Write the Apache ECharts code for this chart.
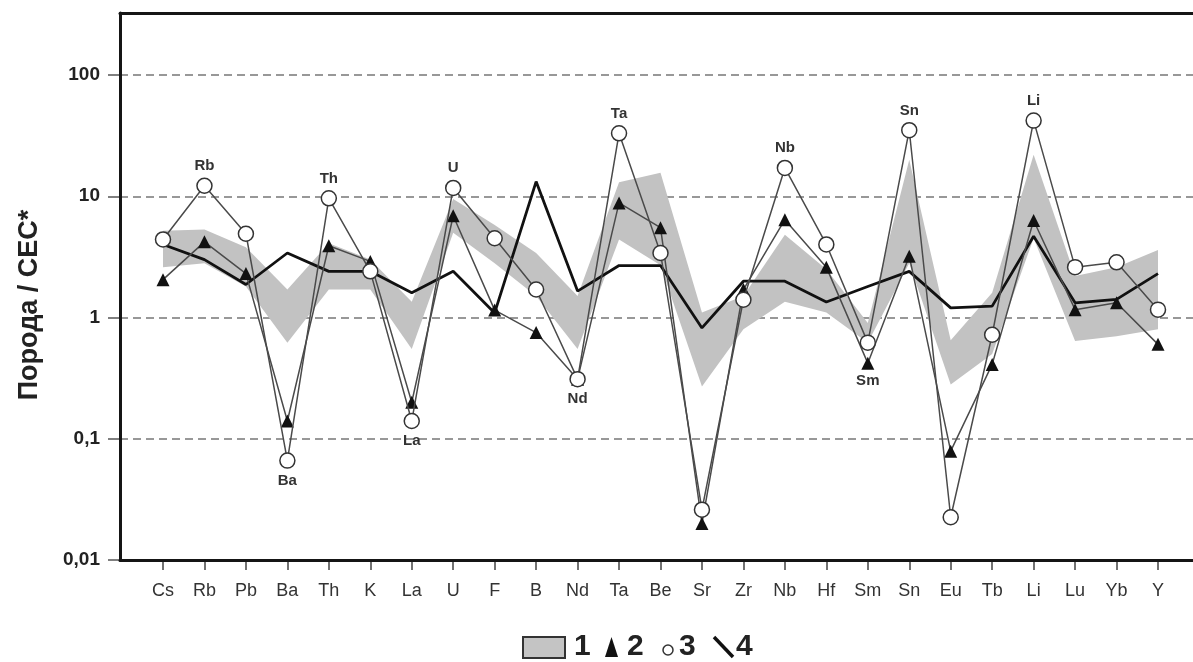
<!DOCTYPE html>
<html>
<head>
<meta charset="utf-8">
<script src="https://cdn.jsdelivr.net/npm/echarts@6/dist/echarts.min.js"></script>
<style>
  html, body { margin: 0; padding: 0; background: #fff; }
  #chart { width: 1193px; height: 662px; }
</style>
</head>
<body>
<div id="chart"></div>
<script>
// элементы
const elements = ['Cs', 'Rb', 'Pb', 'Ba', 'Th', 'K', 'La', 'U', 'F', 'B', 'Nd', 'Ta', 'Be', 'Sr', 'Zr', 'Nb', 'Hf', 'Sm', 'Sn', 'Eu', 'Tb', 'Li', 'Lu', 'Yb', 'Y'];

// 1 - поле (нижняя и верхняя граница)
const bandLow  = [2.6, 2.8, 1.8, 0.62, 1.7, 1.7, 0.55, 5.0, 2.8, 1.5, 0.55, 4.4, 2.7, 0.27, 0.8, 1.35, 1.1, 0.62, 2.8, 0.28, 0.5, 4.5, 0.64, 0.7, 0.8];
const bandHigh = [5.2, 5.3, 3.8, 1.7, 4.1, 3.0, 1.35, 9.5, 5.8, 3.4, 1.5, 13, 15.6, 1.1, 1.5, 4.8, 2.5, 0.9, 20, 0.65, 1.6, 22, 2.2, 2.6, 3.6];
// 2 - треугольники
const series2 = [2.05, 4.2, 2.3, 0.14, 3.9, 2.9, 0.2, 6.9, 1.15, 0.75, 0.31, 8.8, 5.5, 0.02, 1.7, 6.4, 2.6, 0.42, 3.2, 0.079, 0.41, 6.3, 1.16, 1.32, 0.6];
// 3 - кружки
const series3 = [4.4, 12.2, 4.9, 0.066, 9.6, 2.4, 0.14, 11.7, 4.5, 1.7, 0.31, 33, 3.4, 0.026, 1.4, 17.1, 4.0, 0.62, 35, 0.0225, 0.72, 42, 2.6, 2.85, 1.16];
// 4 - жирная линия
const series4 = [4.0, 3.0, 1.87, 3.4, 2.4, 2.4, 1.6, 2.4, 1.09, 13.2, 1.65, 2.68, 2.68, 0.82, 1.99, 1.99, 1.34, 1.8, 2.4, 1.2, 1.24, 4.67, 1.32, 1.41, 2.3];

// подписи оси Y
const yTickValues = [0.01, 0.1, 1, 10, 100];
const yTickLabels = ['0,01', '0,1', '1', '10', '100'];

// подписанные точки
const labelsTop = ['Rb', 'Th', 'U', 'Ta', 'Nb', 'Sn', 'Li'];
const labelsBottom = ['Ba', 'La', 'Nd'];
const labelsBottomTri = ['Sm'];

const FONT = 'Arial, "Liberation Sans", sans-serif';
const labelStyle = { fontFamily: FONT, fontWeight: 'bold', fontSize: 15, color: '#333', distance: 4 };

const chart = echarts.init(document.getElementById('chart'));

const circleData = series3.map((v, i) => {
  const name = elements[i];
  if (labelsTop.includes(name)) return { value: v, label: Object.assign({ show: true, position: 'top', formatter: name }, labelStyle) };
  if (labelsBottom.includes(name)) return { value: v, label: Object.assign({ show: true, position: 'bottom', formatter: name }, labelStyle) };
  return v;
});
const triData = series2.map((v, i) => {
  const name = elements[i];
  if (labelsBottomTri.includes(name)) return { value: v, label: Object.assign({ show: true, position: 'bottom', formatter: name }, labelStyle) };
  return v;
});
const bandDiff = bandHigh.map((v, i) => v - bandLow[i]);

// верх рамки выше 100 (примерно 10^2.51)
const yMin = 0.01, yMax = 324;

const hidden = { axisLine: { show: false }, axisTick: { show: false }, axisLabel: { show: false }, splitLine: { show: false } };
const frameLine = { show: true, lineStyle: { color: '#151515', width: 3 } };

const option = {
  animation: false,
  backgroundColor: '#fff',
  grid: [
    // рамка
    { left: 120, top: 13, right: 0, bottom: 102 },
    // данные
    { left: 163, top: 13, right: 35, bottom: 102 },
    // шкала Y (0,01 - 100)
    { left: 120, top: 75, right: 0, bottom: 102 },
    // подпись оси Y
    { left: 120, top: 50, right: 0, bottom: 102 }
  ],
  xAxis: [
    Object.assign({ gridIndex: 0, type: 'value', min: 0, max: 1, position: 'bottom', z: 10 }, hidden, { axisLine: frameLine }),
    {
      gridIndex: 1, type: 'category', data: elements, boundaryGap: false,
      axisLine: { show: false },
      axisTick: { show: true, length: 10, alignWithLabel: true, lineStyle: { color: '#444', width: 1.5 } },
      axisLabel: { fontFamily: FONT, fontSize: 18, color: '#333', margin: 22, interval: 0 },
      splitLine: { show: false }
    },
    Object.assign({ gridIndex: 2, type: 'value', min: 0, max: 1 }, hidden),
    Object.assign({ gridIndex: 0, type: 'value', min: 0, max: 1, position: 'top', z: 10 }, hidden, { axisLine: frameLine }),
    Object.assign({ gridIndex: 3, type: 'value', min: 0, max: 1 }, hidden)
  ],
  yAxis: [
    Object.assign({ gridIndex: 0, type: 'value', min: 0, max: 1, z: 10 }, hidden, { axisLine: frameLine }),
    { gridIndex: 1, type: 'log', logBase: 10, min: yMin, max: yMax, show: false, splitLine: { show: false } },
    {
      gridIndex: 2, type: 'log', logBase: 10, min: 0.01, max: 100,
      axisLine: { show: false },
      axisTick: { show: true, length: 12, lineStyle: { color: '#555', width: 1.5 } },
      axisLabel: {
        fontFamily: FONT, fontWeight: 'bold', fontSize: 19, color: '#222', margin: 20,
        formatter: (v) => {
          const k = yTickValues.findIndex(t => Math.abs(Math.log10(t) - Math.log10(v)) < 1e-6);
          return k >= 0 ? yTickLabels[k] : '';
        }
      },
      splitLine: { show: true, showMinLine: false, lineStyle: { color: '#777', width: 1.5, type: [8, 5] } }
    },
    Object.assign({
      gridIndex: 3, type: 'value', min: 0, max: 1,
      name: 'Порода / СЕС*', nameLocation: 'middle', nameGap: 77,
      nameTextStyle: { fontFamily: FONT, fontWeight: 'bold', fontSize: 27, color: '#222' }
    }, hidden)
  ],
  series: [
    {
      name: 'band-low', type: 'line', xAxisIndex: 1, yAxisIndex: 1, stack: 'band',
      data: bandLow, symbol: 'none', lineStyle: { width: 0, opacity: 0 }, z: 1
    },
    {
      name: '1', type: 'line', xAxisIndex: 1, yAxisIndex: 1, stack: 'band',
      data: bandDiff, symbol: 'none', lineStyle: { width: 0, opacity: 0 },
      areaStyle: { color: '#c2c2c2', opacity: 1 }, z: 1
    },
    {
      name: '4', type: 'line', xAxisIndex: 1, yAxisIndex: 1, data: series4,
      symbol: 'none', lineStyle: { color: '#111', width: 2.8 }, z: 3
    },
    {
      name: '2', type: 'line', xAxisIndex: 1, yAxisIndex: 1, data: triData,
      symbol: 'triangle', symbolSize: 13, showAllSymbol: true,
      lineStyle: { color: '#4a4a4a', width: 1.5 },
      itemStyle: { color: '#111', borderColor: '#111', borderWidth: 0 }, z: 4
    },
    {
      name: '3', type: 'line', xAxisIndex: 1, yAxisIndex: 1, data: circleData,
      symbol: 'circle', symbolSize: 15, showAllSymbol: true,
      lineStyle: { color: '#4a4a4a', width: 1.5 },
      itemStyle: { color: '#fff', borderColor: '#333', borderWidth: 1.5 }, z: 5
    }
  ],
  graphic: [
    { type: 'rect', shape: { x: 523, y: 637, width: 42, height: 21 }, style: { fill: '#c4c4c4', stroke: '#333', lineWidth: 2 } },
    { type: 'text', x: 574, y: 647, style: { text: '1', font: 'bold 30px ' + FONT, fill: '#222', textVerticalAlign: 'middle' } },
    { type: 'polygon', shape: { points: [[611.5, 637], [605, 657], [618, 657]] }, style: { fill: '#111' } },
    { type: 'text', x: 627, y: 647, style: { text: '2', font: 'bold 30px ' + FONT, fill: '#222', textVerticalAlign: 'middle' } },
    { type: 'circle', shape: { cx: 668, cy: 650, r: 5 }, style: { fill: '#fff', stroke: '#333', lineWidth: 1.5 } },
    { type: 'text', x: 679, y: 647, style: { text: '3', font: 'bold 30px ' + FONT, fill: '#222', textVerticalAlign: 'middle' } },
    { type: 'line', shape: { x1: 714, y1: 637, x2: 733, y2: 657 }, style: { stroke: '#111', lineWidth: 3.5 } },
    { type: 'text', x: 736, y: 647, style: { text: '4', font: 'bold 30px ' + FONT, fill: '#222', textVerticalAlign: 'middle' } }
  ]
};

chart.setOption(option);
</script>
</body>
</html>
